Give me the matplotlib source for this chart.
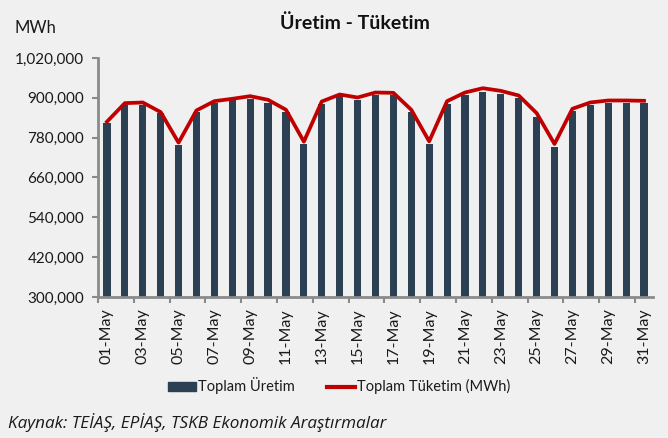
import matplotlib.pyplot as plt
import numpy as np
from matplotlib.ticker import FuncFormatter
from matplotlib.patches import Patch
from matplotlib.lines import Line2D

# günlük veriler (MWh)
gunler = ['%02d-May' % d for d in range(1, 32)]
uretim = [823000, 878000, 879000, 854000, 758000, 856000, 884000, 892000, 896000, 884000,
          857000, 760000, 882000, 904000, 892000, 910000, 908000, 857000, 761000, 882000,
          909000, 919000, 912000, 899000, 843000, 751000, 859000, 879000, 884000, 884000,
          884000]
tuketim = [828000, 884000, 886000, 857000, 765000, 862000, 890000, 897000, 905000, 894000,
           864000, 768000, 889000, 910000, 901000, 916000, 915000, 864000, 769000, 890000,
           916000, 929000, 921000, 907000, 854000, 761000, 867000, 886000, 892000, 892000,
           891000]
y_ticks = [300000, 420000, 540000, 660000, 780000, 900000, 1020000]

bg = '#f0f0f0'
bar_color = '#2c4054'
line_color = '#c00000'
axis_color = '#8a8a8a'
txt = '#1a1a1a'

plt.rcParams['font.family'] = ['Lato', 'DejaVu Sans']

fig = plt.figure(figsize=(6.68, 4.38), dpi=100, facecolor=bg)
ax = fig.add_axes([0.1467, 0.3219, 0.8308, 0.5457])
ax.set_facecolor(bg)

x = np.arange(len(gunler))
ax.bar(x, uretim, width=0.4, color=bar_color, zorder=2)
ax.plot(x, tuketim, color=line_color, lw=2.7, zorder=3, solid_joinstyle='round')

ax.set_xlim(-0.5, len(gunler) - 0.5)
ax.set_ylim(300000, 1020000)
ax.set_yticks(y_ticks)
ax.yaxis.set_major_formatter(FuncFormatter(lambda v, p: '{:,.0f}'.format(v)))

# tik işaretleri kategori sınırlarında, etiketler tek günlerde
ax.set_xticks(np.arange(-0.5, len(gunler) - 1, 2))
ax.set_xticklabels([])
ax.set_xticks(x[::2], minor=True)
ax.set_xticklabels(gunler[::2], minor=True, rotation=90, fontsize=11.5, color=txt)
ax.tick_params(axis='x', which='major', length=4, width=1.5, color=axis_color, direction='out')
ax.tick_params(axis='x', which='minor', length=0, pad=8)
ax.tick_params(axis='y', length=4, width=1.5, color=axis_color, labelsize=11,
               labelcolor=txt, pad=6)

for s in ['top', 'right']:
    ax.spines[s].set_visible(False)
for s in ['left', 'bottom']:
    ax.spines[s].set_color(axis_color)
    ax.spines[s].set_linewidth(2)

fig.text(0.532, 0.948, 'Üretim - Tüketim', ha='center', va='center', fontsize=14,
         fontweight='bold', color='#111111')
fig.text(0.022, 0.937, 'MWh', ha='left', va='center', fontsize=12, color=txt)

handles = [Patch(color=bar_color), Line2D([], [], color=line_color, lw=3)]
leg = fig.legend(handles, ['Toplam Üretim', 'Toplam Tüketim (MWh)'], loc='center',
                 bbox_to_anchor=(0.508, 0.119), ncol=2, frameon=False, fontsize=10.5,
                 handlelength=1.9, handleheight=0.55, handletextpad=0.15, columnspacing=2.2)
for t in leg.get_texts():
    t.set_color(txt)

fig.text(0.012, 0.035, 'Kaynak: TEİAŞ, EPİAŞ, TSKB Ekonomik Araştırmalar', ha='left',
         va='center', fontsize=12.3, style='italic', color=txt,
         family=['Open Sans', 'DejaVu Sans'])

plt.savefig('out.png', dpi=100, facecolor=bg)
